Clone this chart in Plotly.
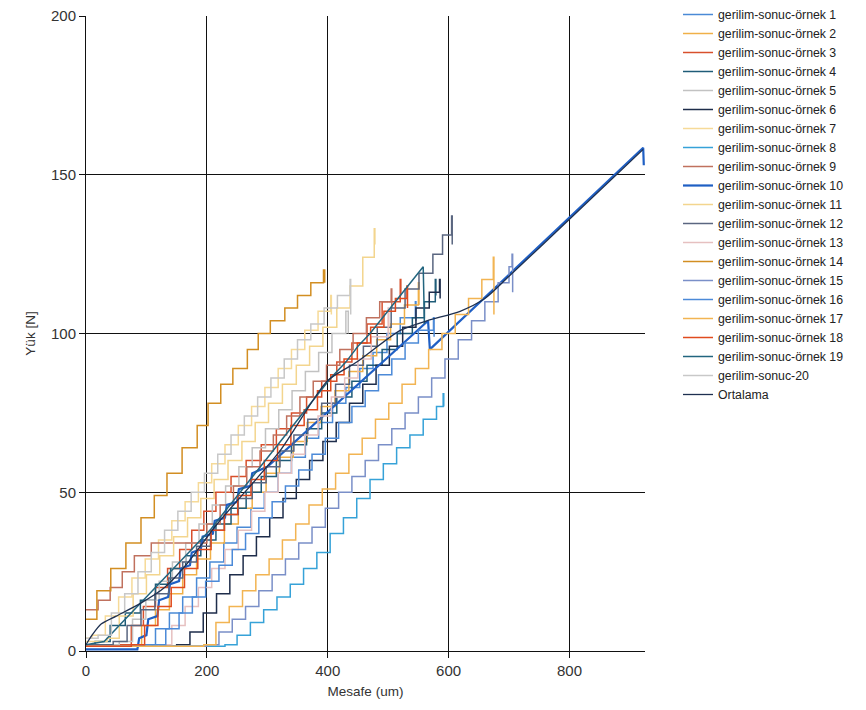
import plotly.graph_objects as go

# ---- data ----
names = ["gerilim-sonuc-örnek 1", "gerilim-sonuc-örnek 2", "gerilim-sonuc-örnek 3",
         "gerilim-sonuc-örnek 4", "gerilim-sonuc-örnek 5", "gerilim-sonuc-örnek 6",
         "gerilim-sonuc-örnek 7", "gerilim-sonuc-örnek 8", "gerilim-sonuc-örnek 9",
         "gerilim-sonuc-örnek 10", "gerilim-sonuc-örnek 11", "gerilim-sonuc-örnek 12",
         "gerilim-sonuc-örnek 13", "gerilim-sonuc-örnek 14", "gerilim-sonuc-örnek 15",
         "gerilim-sonuc-örnek 16", "gerilim-sonuc-örnek 17", "gerilim-sonuc-örnek 18",
         "gerilim-sonuc-örnek 19", "gerilim-sonuc-20", "Ortalama"]

colors = ["#4A8AD6", "#F0B048", "#D8502C", "#1F5C78", "#C2C2C2", "#1E2D4B",
          "#F6DA98", "#36A2D8", "#C0715E", "#1F5FC4", "#F3D58E", "#5A6680",
          "#E6C0C0", "#D28E22", "#7A8FC8", "#4C8AD8", "#F2B452", "#E04B1E",
          "#22657F", "#C8C8C8", "#1E3050"]

s1_x = [0, 95, 115, 138, 160, 183, 205, 228, 250, 273, 295, 318, 340, 363, 385, 408, 430, 453, 475, 498, 520, 545, 546]
s1_y = [1.5, 2, 7, 12, 17, 23, 28, 34, 39, 45, 50, 56, 61, 67, 72, 78, 83, 89, 94, 100, 105, 110, 104]

s2_x = [0, 70, 92, 115, 138, 160, 183, 206, 229, 252, 275, 298, 320, 343, 366, 389, 412, 435, 458, 481, 504, 527, 550, 551]
s2_y = [1.5, 2, 8, 13, 18, 24, 29, 34, 40, 45, 50, 56, 61, 66, 72, 77, 82, 88, 93, 98, 103, 109, 116, 109]

s3_x = [0, 55, 75, 95, 115, 135, 155, 175, 195, 215, 240, 265, 290, 315, 340, 365, 390, 415, 440, 465, 490, 520, 521]
s3_y = [1.5, 2, 8, 14, 20, 26, 32, 38, 44, 50, 55, 60, 65, 70, 75, 80, 85, 91, 97, 103, 110, 117, 112]

s4_x = [0, 15, 40, 65, 90, 115, 140, 165, 190, 215, 240, 265, 290, 315, 340, 365, 390, 415, 440, 465, 490, 515, 540, 560, 578, 579]
s4_y = [2, 3, 8, 12, 16, 21, 26, 30, 35, 40, 45, 50, 55, 60, 65, 70, 75, 80, 85, 90, 95, 100, 105, 110, 117, 112]

s5_x = [0, 55, 77, 99, 121, 143, 165, 187, 209, 231, 253, 275, 297, 319, 341, 363, 385, 407, 430, 434]
s5_y = [2, 3, 10, 16, 22, 28, 34, 40, 46, 52, 58, 64, 70, 76, 82, 88, 94, 100, 107, 100]

s6_x = [0, 150, 172, 194, 216, 238, 260, 282, 304, 326, 348, 370, 392, 414, 436, 458, 480, 502, 524, 546, 568, 585, 586]
s6_y = [1.5, 2, 6, 12, 18, 24, 30, 36, 42, 48, 54, 60, 66, 72, 78, 84, 90, 96, 102, 108, 113, 117, 111]

s7_x = [0, 10, 32, 54, 76, 98, 120, 142, 164, 186, 208, 230, 252, 274, 296, 318, 340, 362, 384, 405, 406]
s7_y = [4, 5, 11, 17, 23, 29, 35, 41, 47, 53, 59, 65, 71, 77, 83, 89, 95, 101, 107, 112, 106]

s8_x = [0, 230, 250, 272, 294, 316, 338, 360, 382, 404, 426, 448, 470, 492, 514, 536, 558, 580, 591, 592]
s8_y = [1.5, 2, 5, 9, 13, 17, 21, 26, 31, 37, 42, 48, 54, 59, 64, 68, 73, 77, 81, 77]

s9_x = [0, 20, 40, 60, 80, 108, 200, 222, 244, 266, 288, 310, 332, 354, 376, 398, 420, 442, 464, 486, 505, 506]
s9_y = [13, 16, 20, 25, 30, 34, 40, 46, 52, 58, 63, 68, 74, 80, 85, 90, 95, 100, 105, 110, 114, 108]

s10_x = [0, 85, 88, 100, 103, 118, 121, 136, 139, 154, 157, 172, 175, 190, 193, 210, 213, 230, 233, 250, 253, 272, 275, 300, 566, 569, 922, 923]
s10_y = [0.5, 0.5, 4, 5, 10, 11, 16, 17, 21, 22, 26, 27, 31, 32, 36, 37, 41, 42, 46, 47, 51, 52, 56, 58, 104, 95, 158.5, 153]

s11_x = [0, 35, 55, 78, 100, 122, 145, 168, 190, 212, 235, 258, 280, 302, 325, 348, 370, 392, 415, 437, 458, 477, 478]
s11_y = [3, 4, 11, 18, 24, 30, 36, 42, 48, 54, 60, 66, 72, 78, 84, 90, 96, 102, 108, 115, 124, 133, 128]

s12_x = [0, 45, 68, 91, 114, 137, 160, 183, 206, 229, 252, 275, 298, 321, 344, 367, 390, 413, 436, 459, 482, 505, 528, 551, 574, 590, 605, 606]
s12_y = [2, 3, 8, 13, 18, 23, 28, 33, 38, 43, 48, 53, 58, 63, 68, 73, 78, 84, 90, 96, 102, 108, 114, 119, 125, 131, 137, 128]

s13_x = [0, 120, 142, 164, 186, 208, 230, 252, 274, 296, 318, 340, 362, 384, 406, 428, 450, 472, 500, 501]
s13_y = [1.5, 2, 8, 14, 20, 26, 32, 38, 44, 50, 56, 62, 68, 74, 80, 86, 92, 99, 108, 102]

s14_x = [0, 18, 41, 66, 91, 113, 134, 159, 184, 202, 223, 243, 267, 285, 305, 329, 350, 372, 393, 395]
s14_y = [10, 19, 26, 34, 42, 49, 56, 64, 71, 78, 84, 89, 95, 100, 104, 108, 112, 116, 120, 116]

s15_x = [0, 200, 220, 242, 264, 286, 308, 330, 352, 374, 396, 418, 440, 462, 484, 506, 528, 550, 572, 594, 616, 638, 660, 682, 700, 705, 706]
s15_y = [1.5, 2, 6, 10, 14, 19, 24, 29, 34, 39, 45, 50, 55, 60, 65, 70, 75, 80, 86, 92, 98, 104, 110, 116, 121, 125, 113]

s16_x = [0, 110, 132, 154, 176, 198, 220, 242, 264, 286, 308, 330, 352, 374, 396, 418, 440, 462, 484, 506, 528, 550, 575, 576]
s16_y = [1.5, 2, 7, 12, 17, 22, 27, 32, 37, 42, 47, 52, 57, 62, 67, 72, 77, 82, 87, 92, 97, 101, 105, 99]

s17_x = [0, 195, 215, 237, 259, 281, 303, 325, 347, 369, 391, 413, 435, 457, 479, 501, 523, 545, 567, 589, 611, 633, 655, 674, 675]
s17_y = [1.5, 2, 9, 14, 19, 24, 29, 35, 40, 46, 51, 56, 62, 67, 73, 78, 84, 89, 95, 100, 106, 111, 117, 124, 106]

s18_x = [0, 75, 97, 119, 141, 163, 185, 207, 229, 251, 273, 295, 317, 339, 361, 383, 405, 427, 449, 471, 493, 512, 531, 532]
s18_y = [1.5, 2, 8, 14, 20, 26, 32, 38, 43, 49, 54, 60, 65, 71, 76, 82, 87, 92, 97, 102, 107, 111, 115, 108]

s19_x = [0, 30, 55, 80, 105, 130, 155, 180, 205, 230, 255, 280, 305, 330, 355, 380, 405, 430, 450, 470, 558, 560]
s19_y = [2, 3, 8, 13, 18, 23, 28, 33, 38, 44, 50, 56, 62, 68, 74, 80, 86, 91, 96, 100, 121, 103]

s20_x = [0, 20, 42, 64, 86, 108, 130, 152, 174, 196, 218, 240, 262, 284, 306, 328, 350, 372, 394, 416, 437, 438]
s20_y = [4, 5, 12, 18, 25, 31, 38, 44, 50, 56, 62, 68, 74, 80, 86, 92, 98, 103, 108, 112, 117, 106]

avg_x = [0, 10, 25, 50, 90, 130, 165, 217, 321, 399, 448, 520, 564, 619, 660, 700, 800, 922]
avg_y = [2, 5, 8.5, 11, 15, 20, 27, 40, 63, 85, 91, 101, 104, 107, 111, 118, 136, 158]

xs = [s1_x, s2_x, s3_x, s4_x, s5_x, s6_x, s7_x, s8_x, s9_x, s10_x,
      s11_x, s12_x, s13_x, s14_x, s15_x, s16_x, s17_x, s18_x, s19_x, s20_x, avg_x]
ys = [s1_y, s2_y, s3_y, s4_y, s5_y, s6_y, s7_y, s8_y, s9_y, s10_y,
      s11_y, s12_y, s13_y, s14_y, s15_y, s16_y, s17_y, s18_y, s19_y, s20_y, avg_y]

x_ticks = [0, 200, 400, 600, 800]
y_ticks = [0, 50, 100, 150, 200]

fig = go.Figure()
for i, (nm, c, x, y) in enumerate(zip(names, colors, xs, ys)):
    if nm == "Ortalama":
        line = dict(color=c, width=1.3, shape="spline", smoothing=0.7)
    elif i == 9:
        line = dict(color=c, width=2.2, shape="linear")
    elif i == 18:
        line = dict(color=c, width=1.5, shape="linear")
    else:
        line = dict(color=c, width=1.5, shape="hv")
    fig.add_trace(go.Scatter(x=x, y=y, mode="lines", name=nm, line=line))

FONT = "Liberation Sans, Arial, sans-serif"
axis_font = dict(family=FONT, size=15, color="#333333")
title_font = dict(family=FONT, size=13.5, color="#333333")
fig.update_layout(
    width=866, height=710,
    margin=dict(l=86, r=221, t=16, b=59, autoexpand=False),
    paper_bgcolor="white", plot_bgcolor="white",
    font=dict(family=FONT, size=12, color="#333333"),
    showlegend=True,
    legend=dict(x=1.059, y=1.0, xanchor="left", yanchor="top", yref="container",
                font=dict(family=FONT, size=12.3, color="#222222"),
                itemwidth=30, tracegroupgap=0, bgcolor="rgba(0,0,0,0)",
                maxheight=700),
    xaxis=dict(range=[0, 925], tickvals=x_ticks, showgrid=True, gridcolor="#111111",
               gridwidth=1, showline=True, linecolor="#111111", linewidth=1,
               ticks="outside", ticklen=6, tickcolor="#111111", tickfont=axis_font,
               zeroline=False,
               title=dict(text="Mesafe (um)", font=title_font, standoff=8)),
    yaxis=dict(range=[0, 200], tickvals=y_ticks, showgrid=True, gridcolor="#111111",
               gridwidth=1, showline=True, linecolor="#111111", linewidth=1,
               ticks="outside", ticklen=6, tickcolor="#111111", tickfont=axis_font,
               zeroline=False,
               title=dict(text="Yük [N]", font=title_font, standoff=12)),
)

fig.write_html("out.html", config={"displayModeBar": False},
               post_script="document.body.style.margin='0';")
